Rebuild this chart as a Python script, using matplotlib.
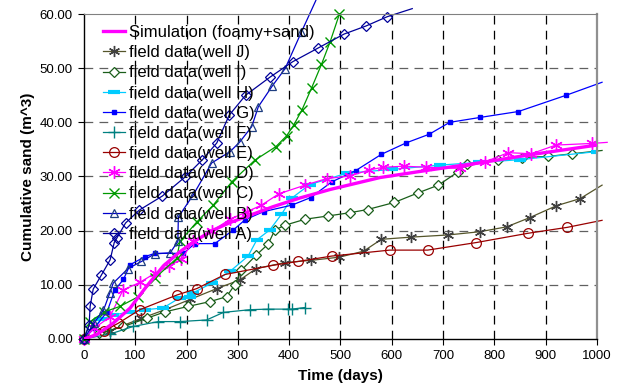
import numpy as np
import matplotlib.pyplot as plt

plt.rcParams['font.family'] = ['Liberation Sans', 'DejaVu Sans']

# simulated cumulative sand production (foamy oil + sand)
sim_days = [0, 25, 57, 90, 122, 155, 187, 220, 252, 285, 317, 368, 420, 480, 577, 674, 770, 869, 1000]
sim_sand = [0, 0.8, 2.9, 5.7, 9.7, 13.5, 16.1, 18.3, 20.1, 21.5, 22.6, 24.4, 26.0, 27.6, 29.8, 31.2, 32.5, 34.0, 35.8]

# field measurements, one pair of lists per well
j_days = [0, 50, 112, 158, 207, 259, 304, 336, 392, 442, 498, 545, 580, 638, 710, 772, 824, 869, 921, 967, 1010]
j_sand = [0, 1.5, 3.8, 5.4, 7.3, 9.3, 10.9, 13.0, 14.1, 14.5, 15.1, 16.2, 18.4, 18.8, 19.2, 19.8, 20.7, 22.4, 24.6, 25.9, 28.4]

i_days = [0, 30, 77, 122, 158, 203, 246, 278, 294, 307, 336, 359, 372, 392, 431, 475, 518, 553, 605, 652, 691,
          730, 746, 808, 853, 905, 952, 1010]
i_sand = [0, 1.0, 2.3, 3.8, 5.0, 6.0, 6.9, 7.8, 10.0, 12.7, 15.5, 17.5, 20.1, 21.0, 22.1, 22.7, 23.3, 23.9, 25.2,
          27.0, 28.4, 30.9, 32.3, 33.0, 33.5, 33.7, 34.2, 34.8]

h_days = [0, 34, 57, 90, 119, 154, 187, 207, 213, 249, 285, 320, 337, 362, 385, 405, 440, 512, 600, 694, 770, 850, 1000]
h_sand = [0, 3.6, 4.4, 5.0, 5.4, 5.7, 7.6, 7.8, 8.5, 10.3, 12.5, 15.3, 18.3, 20.1, 23.0, 26.0, 28.5, 30.6, 31.3,
          32.1, 32.6, 33.1, 34.6]

g_days = [0, 20, 45, 60, 77, 90, 119, 138, 194, 216, 255, 291, 314, 350, 405, 442, 483, 530, 580, 628, 673, 713,
          772, 847, 940, 1010]
g_sand = [0, 2.0, 5.0, 9.0, 11.0, 13.7, 15.2, 15.8, 15.8, 17.6, 17.6, 20.1, 22.0, 23.5, 24.7, 26.1, 29.0, 31.1,
          34.1, 36.2, 37.8, 40.0, 40.9, 42.0, 45.0, 47.4]

f_days = [0, 51, 96, 145, 187, 239, 272, 324, 359, 398, 405, 431]
f_sand = [0, 0.9, 2.3, 3.2, 3.2, 3.5, 4.9, 5.4, 5.5, 5.5, 5.5, 5.8]

e_days = [0, 40, 67, 109, 181, 220, 275, 369, 417, 483, 596, 670, 765, 865, 942, 1010]
e_sand = [0, 1.5, 2.9, 5.4, 8.1, 9.3, 11.9, 13.6, 14.3, 15.3, 16.4, 16.4, 17.8, 19.5, 20.6, 21.9]

d_days = [0, 20, 50, 76, 110, 138, 165, 190, 213, 250, 285, 318, 346, 380, 431, 473, 518, 556, 583, 624, 667,
          733, 782, 827, 872, 920, 990, 1020]
d_sand = [0, 2.0, 4.0, 9.0, 10.5, 12.1, 13.5, 14.7, 18.0, 20.0, 22.1, 23.5, 24.7, 26.8, 28.4, 29.6, 30.1, 31.2,
          31.7, 31.9, 31.7, 31.5, 32.7, 34.4, 34.2, 35.8, 36.1, 36.3]

c_days = [0, 12, 40, 70, 106, 138, 181, 187, 220, 252, 288, 333, 374, 395, 409, 425, 444, 463, 480, 498]
c_sand = [0, 3.2, 5.0, 6.0, 7.8, 11.2, 14.9, 18.0, 21.6, 24.7, 29.0, 33.0, 35.5, 37.5, 39.5, 42.3, 46.4, 50.7,
          54.9, 60.0]

b_days = [0, 20, 38, 50, 57, 86, 112, 138, 168, 183, 184, 213, 249, 285, 304, 327, 340, 367, 392, 424, 452]
b_sand = [0, 3.0, 5.3, 8.4, 10.3, 13.0, 14.3, 15.7, 15.9, 18.0, 22.5, 26.6, 32.5, 34.6, 36.4, 39.2, 42.9, 46.7,
          49.9, 56.7, 62.5]

a_days = [0, 10, 12, 18, 34, 51, 59, 64, 81, 108, 153, 197, 231, 259, 283, 315, 362, 407, 456, 507, 550, 591, 640]
a_sand = [0, 2.5, 6.0, 9.2, 11.8, 14.6, 17.8, 18.6, 21.4, 23.8, 26.4, 29.9, 33.1, 36.2, 41.3, 45.0, 48.3, 51.2,
          53.7, 56.3, 57.8, 59.5, 61.0]

x_ticks = [0, 100, 200, 300, 400, 500, 600, 700, 800, 900, 1000]
y_ticks = [0, 10, 20, 30, 40, 50, 60]

asterisk = (6, 2, 0)
# the last point of these series runs off the plot area, so it gets no marker
tail = slice(0, -1)

fig = plt.figure(figsize=(6.29, 3.90), dpi=100)
ax = fig.add_axes([0.1335, 0.131, 0.8155, 0.833])

ax.plot(sim_days, sim_sand, color='#ff00ff', lw=2.4, label='Simulation (foamy+sand)', zorder=5)
ax.plot(j_days, j_sand, color='#55552a', lw=0.9, marker=asterisk, ms=8, mec='#404040', mew=1.0,
        markevery=tail, label='field data(well J)', clip_on=False)
ax.plot(i_days, i_sand, color='#1a5e1a', lw=0.9, marker='D', ms=5, mfc='white', mec='#1a5e1a', mew=0.9,
        markevery=tail, label='field data(well I)', clip_on=False)
ax.plot(h_days, h_sand, color='#00ccff', lw=0.9, marker='_', ms=8, mew=3, mec='#00ccff',
        label='field data(well H)')
ax.plot(g_days, g_sand, color='#0000ff', lw=0.9, marker='s', ms=2.5, mec='#0000ff',
        markevery=tail, label='field data(well G)', clip_on=False)
ax.plot(f_days, f_sand, color='#008080', lw=0.9, marker='+', ms=8, mew=1.0,
        label='field data(well F)')
ax.plot(e_days, e_sand, color='#990000', lw=0.9, marker='o', ms=7, mfc='none', mec='#990000', mew=0.9,
        markevery=tail, label='field data(well E)', clip_on=False)
ax.plot(d_days, d_sand, color='#ff00ff', lw=0.9, marker=asterisk, ms=9, mew=1.0,
        markevery=tail, label='field data(well D)', clip_on=False)
ax.plot(c_days, c_sand, color='#009900', lw=0.9, marker='x', ms=7, mew=1.0,
        label='field data(well C)', clip_on=False)
ax.plot(b_days, b_sand, color='#0000cc', lw=0.9, marker='^', ms=6, mfc='none', mec='#1f3f80', mew=0.9,
        markevery=tail, label='field data(well B)', clip_on=False)
ax.plot(a_days, a_sand, color='#000099', lw=0.9, marker='D', ms=5, mfc='none', mec='#000099', mew=0.9,
        markevery=tail, label='field data(well A)', clip_on=False)

ax.set_xlim(0, 1000)
ax.set_ylim(0, 60)
ax.set_xticks(x_ticks)
ax.set_yticks(y_ticks)
ax.set_yticklabels(['%.2f' % v for v in y_ticks])
ax.tick_params(direction='out', length=4, width=0.8, labelsize=9.5, pad=4)

for x in x_ticks[1:-1]:
    ax.axvline(x, color='black', lw=0.9, ls=(0, (7, 5)), zorder=0)
for y in y_ticks[1:-1]:
    ax.axhline(y, color='#606060', lw=0.9, ls=(0, (7, 5)), zorder=0)

ax.spines['top'].set_color('#808080')
ax.spines['right'].set_color('#909090')
ax.spines['right'].set_linewidth(1.6)
ax.spines['left'].set_linewidth(1.0)
ax.spines['bottom'].set_linewidth(1.0)

ax.set_xlabel('Time (days)', fontsize=11, fontweight='bold', labelpad=5)
ax.set_ylabel('Cumulative sand (m^3)', fontsize=11, fontweight='bold', labelpad=3)

leg = ax.legend(loc='upper left', bbox_to_anchor=(19 / 513, 1 - 11 / 325), frameon=False, fontsize=12,
                handlelength=1.3, handletextpad=0.25, labelspacing=0.31, borderaxespad=0, borderpad=0)
leg.set_zorder(10)

fig.savefig('out.png', dpi=100)
